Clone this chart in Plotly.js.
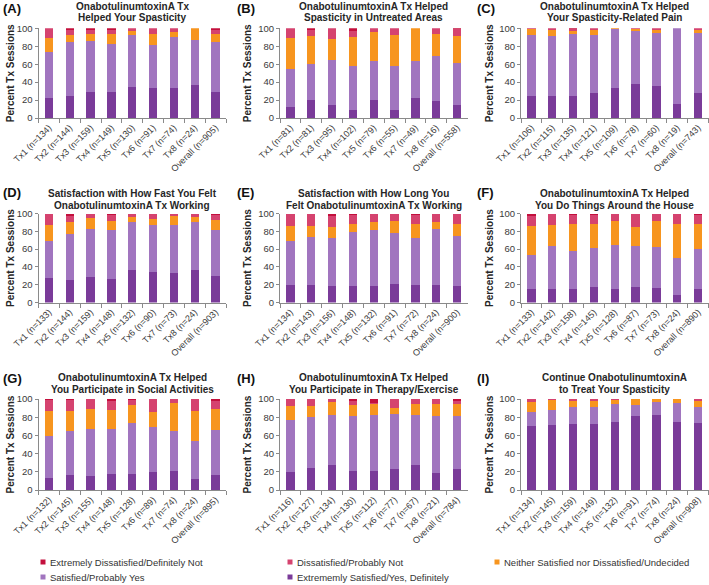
<!DOCTYPE html>
<html>
<head>
<meta charset="utf-8">
<script src="https://cdn.plot.ly/plotly-3.0.1.min.js"></script>
<style>
html,body{margin:0;padding:0;background:#fff;}
#chart{width:709px;height:585px;}
</style>
</head>
<body>
<div id="chart"></div>
<script>
// ---------- categories ----------
const treatments = ['Tx1','Tx2','Tx3','Tx4','Tx5','Tx6','Tx7','Tx8','Overall'];

// sample sizes per panel
const nA = [134,144,159,149,130,91,74,24,905];
const nB = [81,81,95,102,79,55,49,16,558];
const nC = [106,115,135,121,109,78,60,19,743];
const nD = [133,144,159,148,132,90,73,24,903];
const nE = [134,143,156,148,132,91,72,24,900];
const nF = [133,142,158,145,128,87,73,24,890];
const nG = [132,145,155,148,128,89,74,24,895];
const nH = [116,127,134,130,112,77,67,21,784];
const nI = [134,145,159,149,132,91,74,24,908];

// ---------- series (percent) : bottom to top ----------
// Extremely Satisfied / Satisfied / Neither / Dissatisfied / Extremely Dissatisfied
const A_ExtSat  = [22,24,29,29,35,33,34,37,29];
const A_Sat     = [52,61,57,54,57,48,56,50,56];
const A_Neither = [15,7,8,11,5,13,6,13,9];
const A_Dis     = [11,6,4,4,3,6,4,0,4];
const A_ExtDis  = [0,2,2,2,0,0,0,0,2];

const B_ExtSat  = [12,20,15,9,20,9,22,19,15];
const B_Sat     = [43,40,50,49,43,49,41,50,46];
const B_Neither = [34,31,23,32,33,34,37,25,30];
const B_Dis     = [11,7,12,7,4,8,0,6,8];
const B_ExtDis  = [0,2,0,3,0,0,0,0,1];

const C_ExtSat  = [24,25,25,28,33,38,36,16,28];
const C_Sat     = [68,66,69,64,66,59,59,84,67];
const C_Neither = [7,7,3,6,1,2,3,0,3];
const C_Dis     = [1,2,2,2,0,1,2,0,2];
const C_ExtDis  = [0,0,1,0,0,0,0,0,0];

const D_ExtSat  = [27,25,29,26,36,34,33,37,30];
const D_Sat     = [42,52,54,55,55,53,54,54,52];
const D_Neither = [18,13,12,11,5,7,10,5,11];
const D_Dis     = [13,7,4,6,4,6,3,4,5];
const D_ExtDis  = [0,3,1,2,0,0,0,0,2];

const E_ExtSat  = [20,20,18,19,19,21,20,20,19];
const E_Sat     = [49,54,55,60,62,57,52,63,56];
const E_Neither = [17,12,12,9,10,14,16,8,13];
const E_Dis     = [14,13,12,10,9,8,10,9,11];
const E_ExtDis  = [0,1,3,2,0,0,2,0,1];

const F_ExtSat  = [15,15,15,17,15,17,16,8,15];
const F_Sat     = [38,48,43,44,50,47,46,42,45];
const F_Neither = [33,24,30,27,27,21,30,38,28];
const F_Dis     = [11,13,10,10,8,15,8,12,10];
const F_ExtDis  = [3,0,2,2,0,0,0,0,2];

const G_ExtSat  = [13,16,15,18,18,20,21,12,17];
const G_Sat     = [46,49,52,49,56,49,44,42,49];
const G_Neither = [28,22,22,21,19,17,31,33,23];
const G_Dis     = [12,12,11,10,6,14,4,13,9];
const G_ExtDis  = [1,1,0,2,1,0,0,0,2];

const H_ExtSat  = [20,24,28,21,21,23,27,19,23];
const H_Sat     = [57,56,54,60,61,61,55,62,58];
const H_Neither = [15,12,15,12,12,6,13,14,13];
const H_Dis     = [8,8,3,5,2,10,5,5,4];
const H_ExtDis  = [0,0,0,2,4,0,0,0,2];

const I_ExtSat  = [70,71,72,73,75,81,82,75,74];
const I_Sat     = [16,17,19,18,19,12,15,21,17];
const I_Neither = [11,11,7,7,5,7,3,4,7];
const I_Dis     = [3,1,2,2,1,0,0,0,2];
const I_ExtDis  = [0,0,0,0,0,0,0,0,0];

const seriesNames = ['Extrememly Satisfied/Yes, Definitely','Satisfied/Probably Yes',
  'Neither Satisfied nor Dissatisfied/Undecided','Dissatisfied/Probably Not',
  'Extremely Dissatisfied/Definitely Not'];

const panelTitles = [
  'OnabotulinumtoxinA Tx<br>Helped Your Spasticity',
  'OnabotulinumtoxinA Tx Helped<br>Spasticity in Untreated Areas',
  'OnabotulinumtoxinA Tx Helped<br>Your Spasticity-Related Pain',
  'Satisfaction with How Fast You Felt<br>OnabotulinumtoxinA Tx Working',
  'Satisfaction with How Long You<br>Felt OnabotulinumtoxinA Tx Working',
  'OnabotulinumtoxinA Tx Helped<br>You Do Things Around the House',
  'OnabotulinumtoxinA Tx Helped<br>You Participate in Social Activities',
  'OnabotulinumtoxinA Tx Helped<br>You Participate in Therapy/Exercise',
  'Continue OnabotulinumtoxinA<br>to Treat Your Spasticity'
];
const panelLetters = ['(A)','(B)','(C)','(D)','(E)','(F)','(G)','(H)','(I)'];

const panels = [
  {n:nA, s:[A_ExtSat,A_Sat,A_Neither,A_Dis,A_ExtDis]},
  {n:nB, s:[B_ExtSat,B_Sat,B_Neither,B_Dis,B_ExtDis]},
  {n:nC, s:[C_ExtSat,C_Sat,C_Neither,C_Dis,C_ExtDis]},
  {n:nD, s:[D_ExtSat,D_Sat,D_Neither,D_Dis,D_ExtDis]},
  {n:nE, s:[E_ExtSat,E_Sat,E_Neither,E_Dis,E_ExtDis]},
  {n:nF, s:[F_ExtSat,F_Sat,F_Neither,F_Dis,F_ExtDis]},
  {n:nG, s:[G_ExtSat,G_Sat,G_Neither,G_Dis,G_ExtDis]},
  {n:nH, s:[H_ExtSat,H_Sat,H_Neither,H_Dis,H_ExtDis]},
  {n:nI, s:[I_ExtSat,I_Sat,I_Neither,I_Dis,I_ExtDis]}
];

// ---------- styling ----------
const colors = ['#7A3B99','#A175BF','#F7951F','#D5436F','#C3103D'];
const W = 709, H = 585;
const colPx = [[38.5,226],[280,467.5],[521,708.5]];
const rowPx = [[28.3,118],[213.5,302.5],[399,490]];
const titleLinePx = [[6.5,17],[194,205],[377.5,389]];
const letterY = [9,193,378];
const letterX = [1,235,475];
const ytitleX = [10,247,489];
const FONT = 'Liberation Sans, Arial, sans-serif';
const px2x = p => p / W;
const px2y = p => 1 - p / H;

const data = [];
const layout = {
  width: W, height: H,
  margin: {l:0, r:0, t:0, b:0},
  paper_bgcolor: '#fff', plot_bgcolor: '#fff',
  barmode: 'stack', bargap: 0.6,
  showlegend: false,
  font: {family: FONT, color: '#333'},
  annotations: [], shapes: []
};

panels.forEach((p, i) => {
  const r = Math.floor(i / 3), c = i % 3;
  const ax = i === 0 ? '' : String(i + 1);
  const labels = treatments.map((t, k) => t + ' (n=' + p.n[k] + ')');
  p.s.forEach((vals, k) => {
    data.push({
      type: 'bar', x: labels, y: vals, name: seriesNames[k],
      marker: {color: colors[k], line: {width: 0}},
      xaxis: 'x' + ax, yaxis: 'y' + ax, hoverinfo: 'skip'
    });
  });
  layout['xaxis' + ax] = {
    domain: [px2x(colPx[c][0]), px2x(colPx[c][1])],
    anchor: 'y' + ax, type: 'category',
    tickangle: -45, tickson: 'boundaries', ticks: 'outside', ticklen: 4,
    tickcolor: '#8a8a8a', showline: true, linecolor: '#8a8a8a', linewidth: 1,
    showgrid: false, zeroline: false, automargin: false,
    tickfont: {family: FONT, size: 9, color: '#3a3a3a'}
  };
  layout['yaxis' + ax] = {
    domain: [px2y(rowPx[r][1]), px2y(rowPx[r][0])],
    anchor: 'x' + ax, range: [0, 100], dtick: 20, tick0: 0,
    ticks: 'outside', ticklen: 3, tickcolor: '#8a8a8a',
    showline: true, linecolor: '#8a8a8a', linewidth: 1,
    showgrid: false, zeroline: false, automargin: false,
    tickfont: {family: FONT, size: 9.5, color: '#3a3a3a'}
  };
  // title (two lines)
  const lines = panelTitles[i].split('<br>');
  const cx = (colPx[c][0] + colPx[c][1]) / 2;
  lines.forEach((ln, j) => {
    layout.annotations.push({
      text: '<b>' + ln + '</b>', xref: 'paper', yref: 'paper',
      x: px2x(cx), y: px2y(titleLinePx[r][j]), xanchor: 'center', yanchor: 'middle',
      showarrow: false, font: {family: FONT, size: 10, color: '#262626'}
    });
  });
  // panel letter
  layout.annotations.push({
    text: '<b>' + panelLetters[i] + '</b>', xref: 'paper', yref: 'paper',
    x: px2x(letterX[c]), y: px2y(letterY[r]), xanchor: 'left', yanchor: 'middle',
    showarrow: false, font: {family: FONT, size: 13, color: '#111'}
  });
  // y-axis title
  layout.annotations.push({
    text: '<b>Percent Tx Sessions</b>', xref: 'paper', yref: 'paper',
    x: px2x(ytitleX[c]), y: px2y((rowPx[r][0] + rowPx[r][1]) / 2),
    xanchor: 'center', yanchor: 'middle', textangle: -90,
    showarrow: false, font: {family: FONT, size: 10, color: '#262626'}
  });
});

// ---------- legend (manual) ----------
const legendItems = [
  {k:4, x:43, y:562}, {k:3, x:290, y:562}, {k:2, x:497, y:562},
  {k:1, x:43, y:577}, {k:0, x:290, y:577}
];
legendItems.forEach(it => {
  layout.shapes.push({
    type: 'rect', xref: 'paper', yref: 'paper',
    x0: px2x(it.x - 2.5), x1: px2x(it.x + 2.5), y0: px2y(it.y + 2.5), y1: px2y(it.y - 2.5),
    fillcolor: colors[it.k], line: {width: 0}
  });
  layout.annotations.push({
    text: seriesNames[it.k], xref: 'paper', yref: 'paper',
    x: px2x(it.x + 5), y: px2y(it.y), xanchor: 'left', yanchor: 'middle',
    showarrow: false,
    font: {family: FONT, size: 9.5, color: '#333'}
  });
});

Plotly.newPlot('chart', data, layout, {displayModeBar: false, staticPlot: true});
</script>
</body>
</html>
